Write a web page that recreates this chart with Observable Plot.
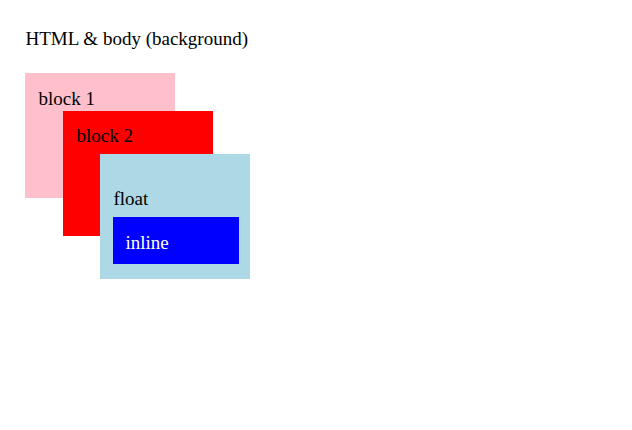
<!DOCTYPE html>
<html><head><meta charset="utf-8">
<script src="https://cdn.jsdelivr.net/npm/d3@7"></script>
<script src="https://cdn.jsdelivr.net/npm/@observablehq/plot@0.6"></script>
<style>body{margin:0;background:#fff}</style>
</head><body>
<script>
const names = ["block 1","block 2","float","inline"];
const x1s = [25,63,100,113];
const x2s = [175,213,250,239];
const y1s = [73,111,154,217];
const y2s = [198,236,279,264];
const fills = ["pink","red","lightblue","blue"];
const labelX = [38,76,113,125];
const labelY = [98,135,198,242];
const labelColors = ["black","black","black","white"];
const title = "HTML & body (background)";

const boxes = names.map((n,i)=>({n,x1:x1s[i],x2:x2s[i],y1:y1s[i],y2:y2s[i],fill:fills[i],lx:labelX[i],ly:labelY[i],lc:labelColors[i]}));
const chart = Plot.plot({
  width:632,height:430,margin:0,
  x:{domain:[0,632],range:[0,632],axis:null},
  y:{domain:[0,430],range:[0,430],axis:null},
  style:{fontFamily:"'Liberation Serif', 'Times New Roman', serif",background:"white"},
  marks:[
    Plot.rect(boxes,{x1:"x1",x2:"x2",y1:"y1",y2:"y2",fill:d=>d.fill}),
    Plot.text(boxes,{x:"lx",y:"ly",text:"n",fill:d=>d.lc,textAnchor:"start",fontSize:19}),
    Plot.text([title],{x:25,y:38,text:d=>d,textAnchor:"start",fontSize:19,fill:"black"})
  ]
});
document.body.appendChild(chart);
</script>
</body></html>
